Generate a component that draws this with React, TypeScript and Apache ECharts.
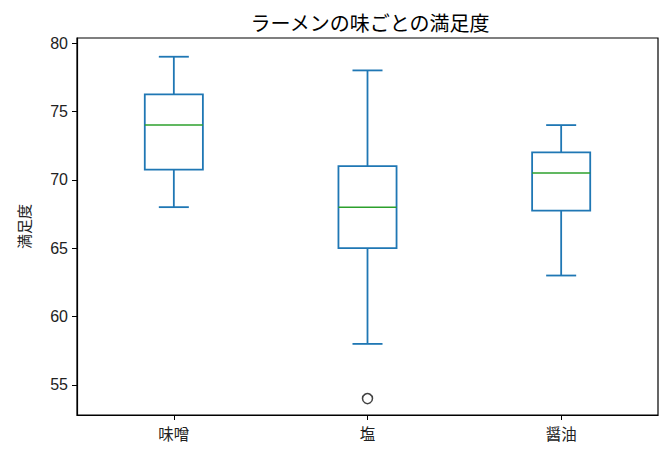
import React, { useEffect, useRef } from "react";
import * as echarts from "echarts";

const categories = ["味噌", "塩", "醤油"];
const mins = [68, 58, 63];
const q1s = [70.75, 65, 67.75];
const medians = [74, 68, 70.5];
const q3s = [76.25, 71, 72];
const maxs = [79, 78, 74];
const outliers: [number, number][] = [[1, 54]];
const yTicks = [55, 60, 65, 70, 75, 80];

const BLUE = "#1f77b4";
const GREEN = "#2ca02c";
const FONT = "'Liberation Sans', 'Noto Sans CJK JP', sans-serif";

export default function App() {
  const ref = useRef<HTMLDivElement>(null);
  useEffect(() => {
    if (!ref.current) return;
    const chart = echarts.init(ref.current, undefined, { renderer: "svg" });
    const boxData = categories.map((_, i) => [i, mins[i], q1s[i], medians[i], q3s[i], maxs[i]]);
    chart.setOption({
      animation: false,
      backgroundColor: "#fff",
      title: {
        text: "ラーメンの味ごとの満足度",
        left: 365,
        top: 7,
        textAlign: "center",
        textStyle: { fontFamily: "'Noto Sans CJK JP', sans-serif", fontSize: 20, fontWeight: "normal", color: "#000" },
      },
      grid: { left: 77, top: 38, right: 13, bottom: 40, show: true, borderColor: "#000", borderWidth: 1.2, backgroundColor: "transparent" },
      xAxis: {
        type: "category",
        data: categories,
        boundaryGap: true,
        axisLine: { show: true, lineStyle: { color: "#000", width: 1.2 } },
        axisTick: { show: true, alignWithLabel: true, length: 5, lineStyle: { color: "#000" } },
        axisLabel: { margin: 10, fontSize: 15.5, color: "#222", fontFamily: "'Noto Sans CJK JP', sans-serif" },
        splitLine: { show: false },
      },
      yAxis: {
        type: "value",
        min: 52.8,
        max: 80.37,
        name: "満足度",
        nameLocation: "middle",
        nameRotate: 90,
        nameGap: 46,
        nameTextStyle: { fontSize: 15, color: "#222", fontFamily: "'Noto Sans CJK JP', sans-serif" },
        axisLine: { show: true, lineStyle: { color: "#000", width: 1.2 } },
        axisTick: { show: true, length: 5, customValues: yTicks, lineStyle: { color: "#000" } },
        axisLabel: { customValues: yTicks, margin: 9, fontSize: 16, color: "#222", fontFamily: FONT },
        splitLine: { show: false },
      },
      series: [
        {
          type: "custom",
          data: boxData,
          encode: { x: 0, y: [1, 2, 3, 4, 5] },
          renderItem: (params: any, api: any) => {
            const x = api.value(0);
            const pMin = api.coord([x, api.value(1)]);
            const pQ1 = api.coord([x, api.value(2)]);
            const pMed = api.coord([x, api.value(3)]);
            const pQ3 = api.coord([x, api.value(4)]);
            const pMax = api.coord([x, api.value(5)]);
            const band = api.size([1, 0])[0];
            const bw = band * 0.3;
            const cw = band * 0.155;
            const cx = pMed[0];
            const ls = { stroke: BLUE, lineWidth: 1.8, fill: "none" };
            return {
              type: "group",
              children: [
                { type: "line", shape: { x1: cx, y1: pQ3[1], x2: cx, y2: pMax[1] }, style: ls },
                { type: "line", shape: { x1: cx, y1: pQ1[1], x2: cx, y2: pMin[1] }, style: ls },
                { type: "line", shape: { x1: cx - cw / 2, y1: pMax[1], x2: cx + cw / 2, y2: pMax[1] }, style: ls },
                { type: "line", shape: { x1: cx - cw / 2, y1: pMin[1], x2: cx + cw / 2, y2: pMin[1] }, style: ls },
                { type: "rect", shape: { x: cx - bw / 2, y: pQ3[1], width: bw, height: pQ1[1] - pQ3[1] }, style: ls },
                { type: "line", shape: { x1: cx - bw / 2, y1: pMed[1], x2: cx + bw / 2, y2: pMed[1] }, style: { stroke: GREEN, lineWidth: 1.5 } },
              ],
            };
          },
        },
        {
          type: "scatter",
          data: outliers,
          symbol: "circle",
          symbolSize: 10,
          itemStyle: { color: "#fff", borderColor: "#111", borderWidth: 1.5 },
        },
      ],
    });
    return () => chart.dispose();
  }, []);
  return <div ref={ref} style={{ position: "fixed", left: 0, top: 0, width: 671, height: 455 }} />;
}
